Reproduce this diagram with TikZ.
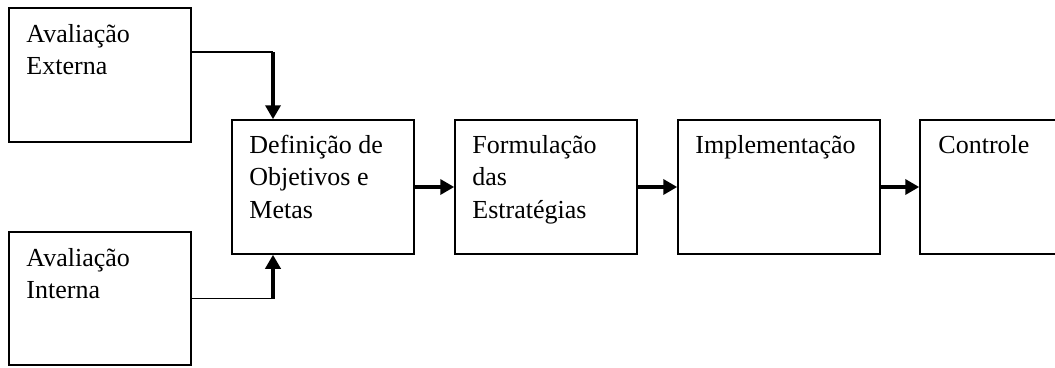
\documentclass[tikz,border=0pt]{standalone}
\usepackage{fontspec}
\setmainfont{Liberation Serif}
\usepackage{tikz}
\usetikzlibrary{arrows.meta,calc}

% lines of a box text, baseline at the first line
\newcommand{\boxlines}[1]{\parbox[t]{170pt}{\raggedright #1}}

\begin{document}
\begin{tikzpicture}[x=1pt,y=-1pt]
		\tikzstyle{box}=[draw,line width=1.5pt,inner sep=0pt,minimum width=182pt,minimum height=134pt]
		\tikzstyle{boxtext}=[anchor=base west,inner sep=0pt,font=\fontsize{26}{32.5}\selectfont]
		\tikzstyle{thinline}=[line width=1.6pt]
		\tikzstyle{flow}=[-{Triangle[length=14pt,width=15pt]},line width=3.6pt]
		\clip (0,0) rectangle (1055,367);
		% inputs
		\node [box] at (100,75) (ext) {};
		\node [box,minimum height=133pt] at (100,298.5) (int) {};
		\node [boxtext] at ($(ext.north west)+(18,35)$) (exttext) {\boxlines{Avaliação\\Externa}};
		\node [boxtext] at ($(int.north west)+(18,35)$) (inttext) {\boxlines{Avaliação\\Interna}};
		% chain
		\node [box] at (323,187) (def) {};
		\node [box] at (546,187) (form) {};
		\node [box,minimum width=202pt] at (779,187) (impl) {};
		\node [box] at (1011,187) (ctrl) {};
		\node [boxtext] at ($(def.north west)+(18,34)$) (deftext) {\boxlines{Definição de\\Objetivos e\\Metas}};
		\node [boxtext] at ($(form.north west)+(18,34)$) (formtext) {\boxlines{Formulação\\das\\Estratégias}};
		\node [boxtext] at ($(impl.north west)+(18,34)$) (impltext) {\boxlines{Implementação}};
		\node [boxtext] at ($(ctrl.north west)+(19,34)$) (ctrltext) {\boxlines{Controle}};
		% connectors
		\coordinate (extturn) at (273,52);
		\coordinate (intturn) at (273,298.5);
		\draw [thinline] (ext.east |- extturn) -- (extturn);
		\draw [flow] (extturn) -- (extturn |- def.north);
		\draw [thinline] (int.east) -- (intturn);
		\draw [flow] (intturn) -- (intturn |- def.south);
		\draw [flow] (def) -- (form);
		\draw [flow] (form) -- (impl);
		\draw [flow] (impl) -- (ctrl);
	\end{tikzpicture}
\end{document}
